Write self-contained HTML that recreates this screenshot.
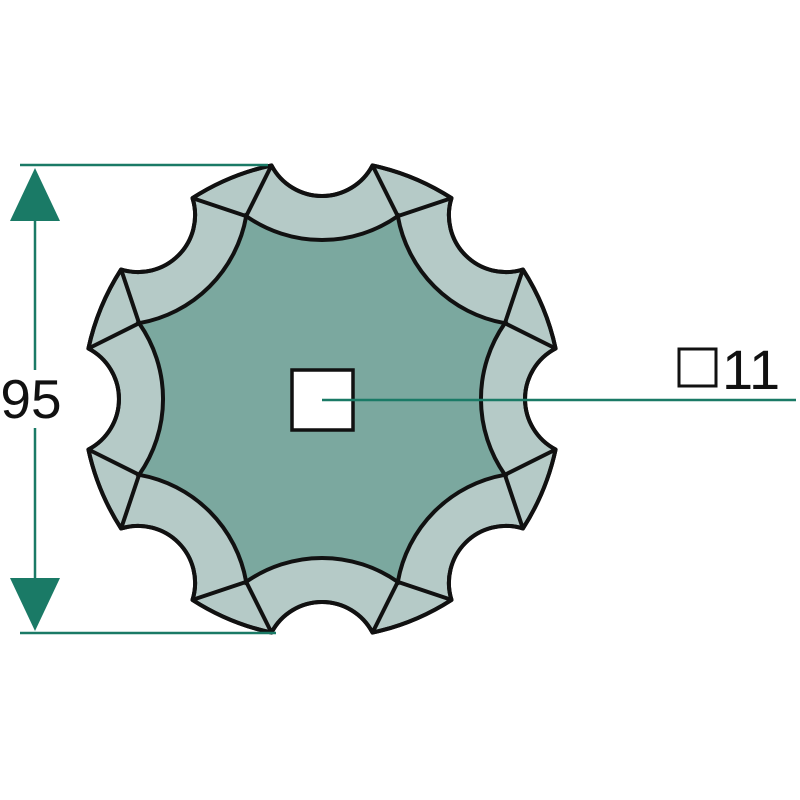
<!DOCTYPE html>
<html><head><meta charset="utf-8"><style>html,body{margin:0;padding:0;background:#fff}svg{display:block}</style></head>
<body>
<svg id="s" width="800" height="800" viewBox="0 0 800 800" xmlns="http://www.w3.org/2000/svg">
<g id="disc"></g>
<rect x="292" y="370" width="61" height="60" fill="#fff" stroke="#111" stroke-width="3.5"/>
<line x1="322" y1="400" x2="796" y2="400" stroke="#1a7a66" stroke-width="2.5"/>
<rect x="679" y="349" width="37" height="37" fill="none" stroke="#111" stroke-width="3"/>
<text x="722" y="389" font-family="Liberation Sans, sans-serif" font-size="56" fill="#111">11</text>
<line x1="20" y1="165" x2="268" y2="165" stroke="#1a7a66" stroke-width="2.5"/>
<line x1="20" y1="633" x2="276" y2="633" stroke="#1a7a66" stroke-width="2.5"/>
<line x1="35" y1="200" x2="35" y2="600" stroke="#1a7a66" stroke-width="2.5"/>
<polygon points="35,168 10,221 60,221" fill="#1a7a66"/>
<polygon points="35,631 10,578 60,578" fill="#1a7a66"/>
<rect x="0" y="370" width="70" height="58" fill="#fff"/>
<text x="31" y="418" text-anchor="middle" font-family="Liberation Sans, sans-serif" font-size="55" fill="#111">95</text>
</svg>
<script>
(function(){
var cx=322,cy=399,R=239,half=10.3,rIn=198;
function P(r,a){a=a*Math.PI/180;return (cx+r*Math.cos(a)).toFixed(1)+","+(cy+r*Math.sin(a)).toFixed(1);}
var outer="",inner="",lines="";
for(var k=0;k<8;k++){
 var t=22.5+45*k;
 var a1=t-half,a2=t+half;
 outer+=(k==0?"M":"L")+P(R,a1)+" A"+R+","+R+" 0 0 1 "+P(R,a2)+" ";
 outer+="A57,57 0 0 0 "+P(R,a2+45-2*half)+" ";
 inner+=(k==0?"M"+P(rIn,t)+" ":"")+"A132,132 0 0 0 "+P(rIn,t+45)+" ";
 lines+="M"+P(R,a1)+" L"+P(rIn,t)+" L"+P(R,a2)+" ";
}
outer+="Z";inner+="Z";
var g=document.getElementById("disc");
g.innerHTML='<path d="'+outer+'" fill="#b5cac7" stroke="#111" stroke-width="4" stroke-linejoin="round"/>'+
'<path d="'+inner+'" fill="#7ba89f" stroke="#111" stroke-width="4"/>'+
'<path d="'+lines+'" fill="none" stroke="#111" stroke-width="4" stroke-linejoin="round"/>'+
'<path d="'+outer+'" fill="none" stroke="#111" stroke-width="4" stroke-linejoin="round"/>';
})();
</script>
</body></html>
